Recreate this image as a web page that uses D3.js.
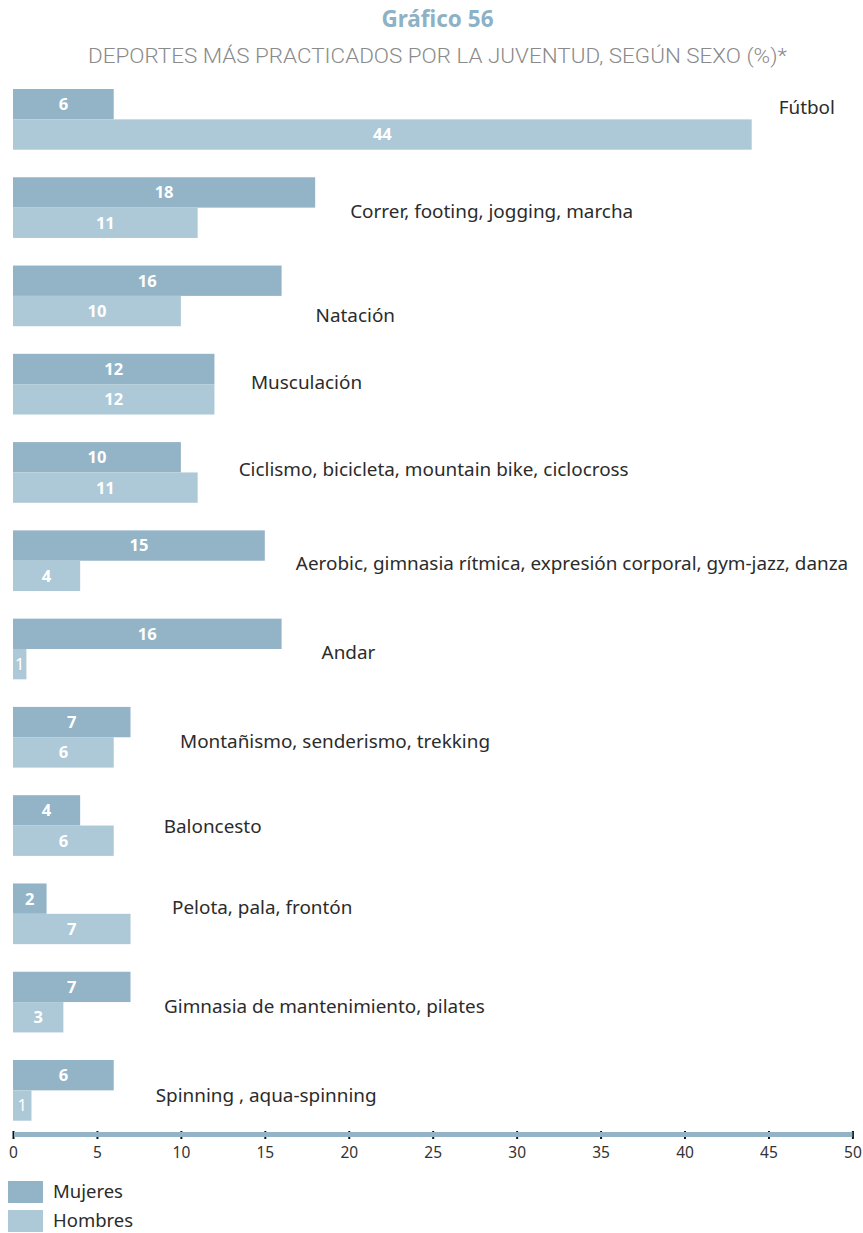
<!DOCTYPE html>
<html><head><meta charset="utf-8">
<script src="https://cdn.jsdelivr.net/npm/d3@7"></script>
<style>body{margin:0;background:#fff}svg{display:block}</style>
</head><body>
<svg id="chart" width="863" height="1233"></svg>
<script>
const categories = ["Fútbol","Correr, footing, jogging, marcha","Natación","Musculación","Ciclismo, bicicleta, mountain bike, ciclocross","Aerobic, gimnasia rítmica, expresión corporal, gym-jazz, danza","Andar","Montañismo, senderismo, trekking","Baloncesto","Pelota, pala, frontón","Gimnasia de mantenimiento, pilates","Spinning , aqua-spinning"];
const mujeres = [6,18,16,12,10,15,16,7,4,2,7,6];
const hombres = [44,11,10,12,11,4,0.8,6,6,7,3,1.1];
const seriesNames = ["Mujeres","Hombres"];
const xTicks = [0,5,10,15,20,25,30,35,40,45,50];
const title = "Gráfico 56";
const subtitle = "DEPORTES MÁS PRACTICADOS POR LA JUVENTUD, SEGÚN SEXO (%)*";

// layout (label placement offsets in px, not data)
const labelDx = [27,35,34,36.5,41,31,40,49.5,50,41.5,33.5,42];
const labelDy = [18,33.7,49.5,28.2,26.9,32.6,33.4,34.1,30.8,23.6,34.3,35];

const colors = {Mujeres:"#93b4c7", Hombres:"#adc9d7"};
const font = "'Noto Sans', 'Open Sans', sans-serif";

const svg = d3.select("#chart");
const x = d3.scaleLinear().domain([0,50]).range([13,852.4]);
const y = d3.scaleBand().domain(categories).range([89,1120.7]).paddingInner(0.3124).paddingOuter(0);
const sub = d3.scaleBand().domain(seriesNames).range([0,y.bandwidth()]);

svg.append("text").attr("x",437.5).attr("y",27).attr("text-anchor","middle")
  .attr("font-family",font).attr("font-weight",700).attr("font-size",22.5).attr("fill","#8db2c6").text(title);
svg.append("text").attr("x",437.5).attr("y",63).attr("text-anchor","middle")
  .attr("font-family","Roboto, sans-serif").attr("font-weight",300).attr("font-size",21)
  .attr("textLength",699).attr("lengthAdjust","spacingAndGlyphs")
  .attr("fill","#8a8a8a").text(subtitle);

const rows = categories.map((c,i)=>({c,i,vals:[{s:"Mujeres",v:mujeres[i]},{s:"Hombres",v:hombres[i]}]}));
const g = svg.selectAll("g.row").data(rows).join("g").attr("class","row")
  .attr("transform",d=>`translate(0,${y(d.c)})`);
g.selectAll("rect").data(d=>d.vals).join("rect")
  .attr("x",x(0)).attr("y",d=>sub(d.s)).attr("width",d=>x(d.v)-x(0)).attr("height",sub.bandwidth())
  .attr("fill",d=>colors[d.s]);
g.selectAll("text.val").data(d=>d.vals).join("text").attr("class","val")
  .attr("x",d=>(x(0)+x(d.v))/2).attr("y",d=>sub(d.s)+sub.bandwidth()/2).attr("dy","0.36em")
  .attr("text-anchor","middle").attr("font-family",font)
  .attr("font-weight",d=>d.v<1.5?400:700).attr("font-size",16.5).attr("fill","#fff").text(d=>Math.round(d.v));
g.append("text").attr("class","lab")
  .attr("x",d=>x(Math.max(mujeres[d.i],hombres[d.i]))+labelDx[d.i])
  .attr("y",d=>labelDy[d.i]).attr("dy","0.35em")
  .attr("font-family",font).attr("font-size",18.9).attr("fill","#2b2b2b").text(d=>d.c);

// axis
const axisG = svg.append("g").attr("transform","translate(0,1131)")
  .call(d3.axisBottom(x).tickValues(xTicks).tickSize(8).tickPadding(8).tickSizeOuter(0));
axisG.select(".domain").remove();
axisG.selectAll(".tick line").attr("stroke","#111").attr("stroke-width",2);
axisG.selectAll(".tick text").attr("font-family",font).attr("font-size",15.5).attr("fill","#333");
svg.append("rect").attr("x",x(0)+1).attr("y",1132).attr("width",x(50)-x(0)-1).attr("height",5).attr("fill","#93b4c7");

// legend
const lg = svg.selectAll("g.leg").data(seriesNames).join("g").attr("class","leg")
  .attr("transform",(d,i)=>`translate(8,${1181+i*29})`);
lg.append("rect").attr("width",35).attr("height",22).attr("fill",d=>colors[d]);
lg.append("text").attr("x",45).attr("y",11).attr("dy","0.35em").attr("font-family",font)
  .attr("font-size",18.5).attr("fill","#2b2b2b").text(d=>d);
</script>
</body></html>
